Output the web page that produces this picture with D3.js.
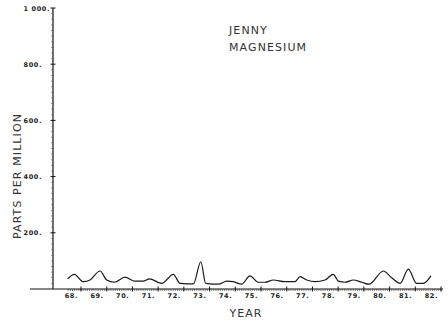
<!DOCTYPE html>
<html>
<head>
<meta charset="utf-8">
<script src="https://cdn.jsdelivr.net/npm/d3@7"></script>
<style>
  html, body { margin: 0; padding: 0; background: #fff; }
  svg { display: block; }
  .tick-label { font-family: "DejaVu Sans", sans-serif; font-size: 6.5px; font-weight: bold; fill: #222; letter-spacing: 0.6px; }
  .title { font-family: "DejaVu Sans", sans-serif; font-size: 11px; fill: #333; letter-spacing: 1.1px; }
</style>
</head>
<body>
<script>
// Magnesium concentration, Jenny station, by year (fractional years, 19xx)
const years = [67.48, 67.74, 68.09, 68.35, 68.74, 69.00, 69.30, 69.71, 70.10, 70.42,
  70.66, 71.14, 71.59, 71.85, 72.37, 72.66, 72.85, 73.34, 73.67, 73.92,
  74.25, 74.57, 74.90, 75.16, 75.48, 75.93, 76.32, 76.52, 76.78, 77.10,
  77.49, 77.81, 78.01, 78.27, 78.59, 78.92, 79.20, 79.76, 80.08, 80.41,
  80.73, 81.05, 81.31, 81.61];
const ppm = [36, 52, 26, 32, 64, 32, 24, 42, 28, 28,
  36, 20, 52, 20, 18, 97, 20, 17, 28, 26,
  17, 47, 24, 24, 32, 26, 26, 44, 32, 26,
  32, 52, 28, 24, 32, 24, 17, 64, 40, 20,
  71, 20, 20, 47];
const yearTicks = [68, 69, 70, 71, 72, 73, 74, 75, 76, 77, 78, 79, 80, 81, 82];
const ppmTicks = [200, 400, 600, 800, 1000];
const ppmLabels = ["200.", "400.", "600.", "800.", "1 000."];

const W = 448, H = 323;
const svg = d3.select("body").append("svg").attr("width", W).attr("height", H);

const x = d3.scaleLinear().domain([68, 82]).range([81, 441]);
const y = d3.scaleLinear().domain([0, 1000]).range([289, 8]);
const axisX = 53;

const ink = "#111";

// x axis line
svg.append("line").attr("x1", 30).attr("x2", 443)
  .attr("y1", y(0)).attr("y2", y(0)).attr("stroke", ink).attr("stroke-width", 1.2);

// monthly minor ticks on the x axis
const months = d3.range(68 * 12 - 6, 82 * 12 + 1).map(m => m / 12);
svg.append("g").selectAll("line").data(months).join("line")
  .attr("x1", d => x(d)).attr("x2", d => x(d))
  .attr("y1", y(0)).attr("y2", y(0) + 1.8)
  .attr("stroke", "#444").attr("stroke-width", 0.8);

// yearly major ticks (crossing the axis)
svg.append("g").selectAll("line").data(yearTicks).join("line")
  .attr("x1", d => x(d)).attr("x2", d => x(d))
  .attr("y1", y(0) - 2.5).attr("y2", y(0) + 2.5)
  .attr("stroke", ink).attr("stroke-width", 1);

// year labels, set to the left of each tick
svg.append("g").selectAll("text").data(yearTicks).join("text")
  .attr("class", "tick-label")
  .attr("x", d => x(d) - 3).attr("y", y(0) + 9)
  .attr("text-anchor", "end")
  .text(d => d + ".");

// y axis line
svg.append("line").attr("x1", axisX).attr("x2", axisX)
  .attr("y1", y(1000)).attr("y2", y(0)).attr("stroke", ink).attr("stroke-width", 1.2);

// minor ticks on the y axis every 20 ppm
const minorPpm = d3.range(20, 1000, 20).filter(v => v % 200 !== 0);
svg.append("g").selectAll("line").data(minorPpm).join("line")
  .attr("x1", axisX - 1.8).attr("x2", axisX)
  .attr("y1", d => y(d)).attr("y2", d => y(d))
  .attr("stroke", "#555").attr("stroke-width", 0.7);

// major y ticks
svg.append("g").selectAll("line").data(ppmTicks).join("line")
  .attr("x1", axisX - 2.5).attr("x2", axisX + 2.5)
  .attr("y1", d => y(d)).attr("y2", d => y(d))
  .attr("stroke", ink).attr("stroke-width", 1);

svg.append("g").selectAll("text").data(ppmTicks).join("text")
  .attr("class", "tick-label")
  .attr("x", (d, i) => i === 4 ? axisX - 3 : axisX - 11)
  .attr("y", d => y(d) + 2.5)
  .attr("text-anchor", "end")
  .text((d, i) => ppmLabels[i]);

// data line
const line = d3.line()
  .x((d, i) => x(years[i]))
  .y(d => y(d))
  .curve(d3.curveMonotoneX);
svg.append("path").datum(ppm)
  .attr("d", line)
  .attr("fill", "none").attr("stroke", "#1a1a1a").attr("stroke-width", 1.2);

// titles
svg.append("text").attr("class", "title").attr("x", 229).attr("y", 34).text("JENNY");
svg.append("text").attr("class", "title").attr("x", 229).attr("y", 51).text("MAGNESIUM");
svg.append("text").attr("class", "title").attr("x", 246).attr("y", 317)
  .attr("text-anchor", "middle").text("YEAR");
svg.append("text").attr("class", "title")
  .attr("transform", "translate(21,176) rotate(-90)")
  .attr("text-anchor", "middle").text("PARTS PER MILLION");
</script>
</body>
</html>
